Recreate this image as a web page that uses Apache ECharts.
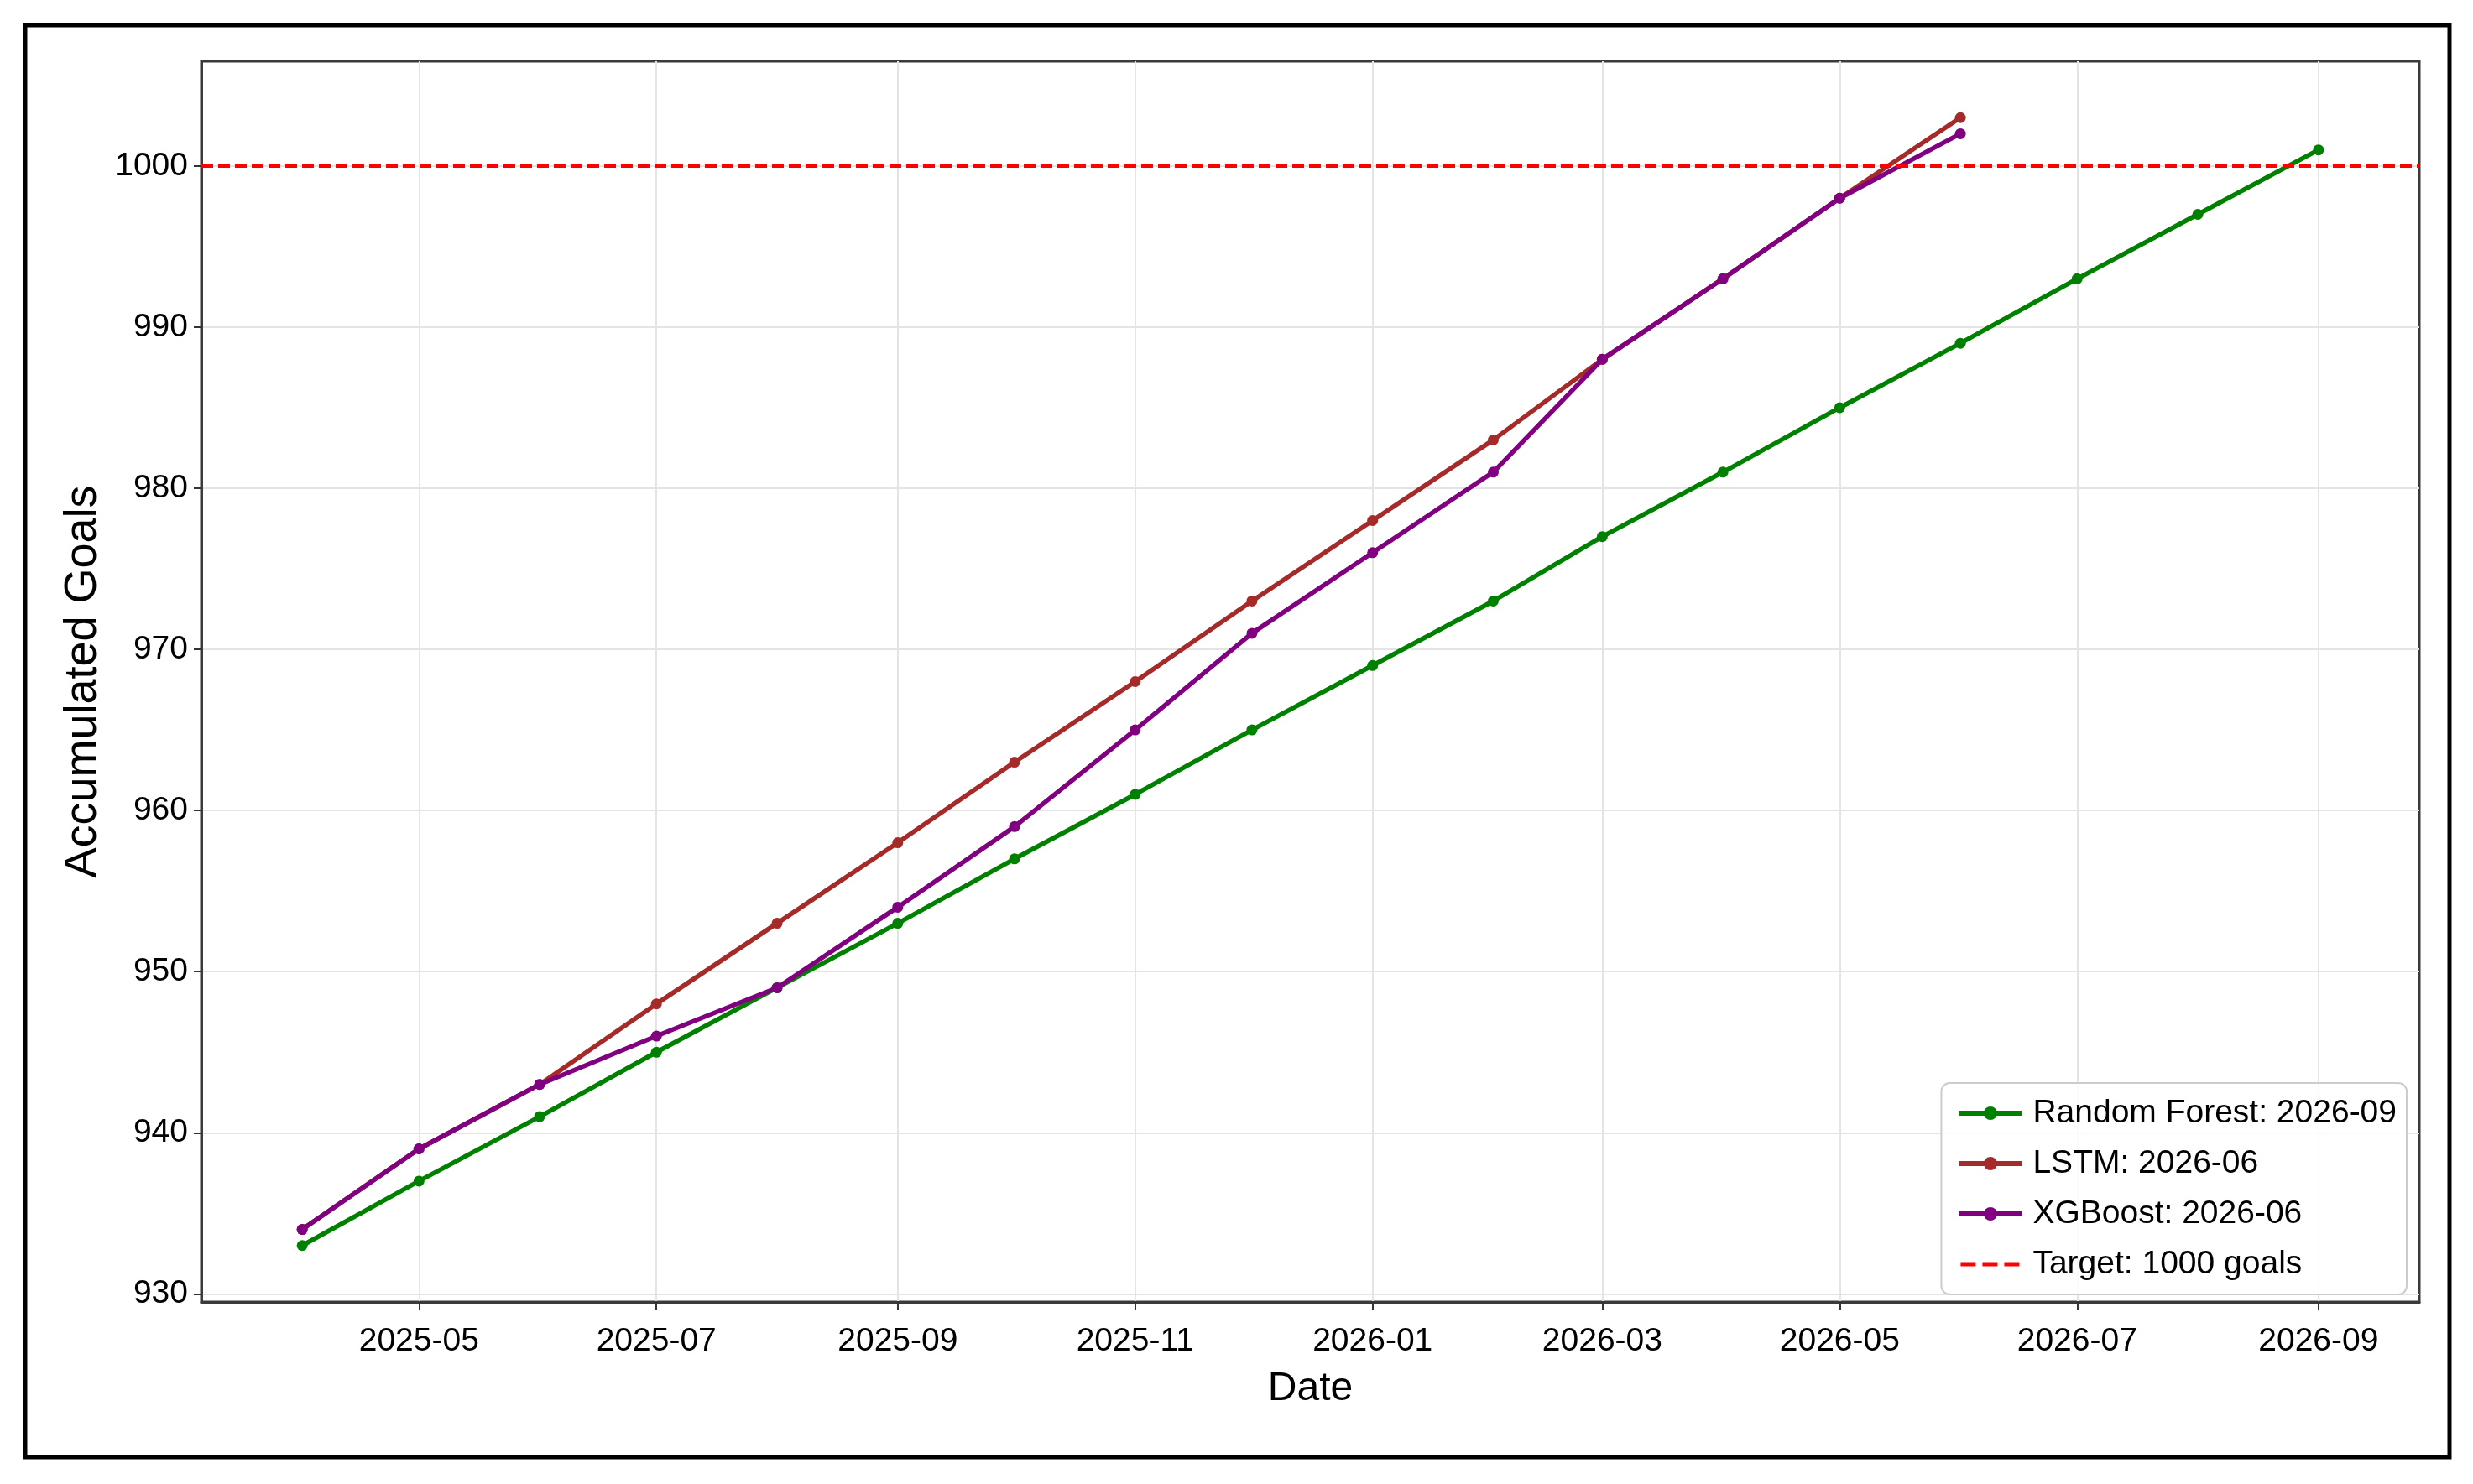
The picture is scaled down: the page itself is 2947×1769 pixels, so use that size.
<!DOCTYPE html>
<html>
<head>
<meta charset="utf-8">
<script src="https://cdn.jsdelivr.net/npm/echarts@6/dist/echarts.min.js"></script>
<style>
html,body{margin:0;padding:0;background:#fff;}
#chart{width:2947px;height:1769px;}
</style>
</head>
<body>
<div id="chart"></div>
<script>
// ---- data ----
const months = ['2025-04','2025-05','2025-06','2025-07','2025-08','2025-09','2025-10','2025-11','2025-12',
                '2026-01','2026-02','2026-03','2026-04','2026-05','2026-06','2026-07','2026-08','2026-09'];
const rfValues   = [933,937,941,945,949,953,957,961,965,969,973,977,981,985,989,993,997,1001];
const lstmValues = [934,939,943,948,953,958,963,968,973,978,983,988,993,998,1003];
const xgbValues  = [934,939,943,946,949,954,959,965,971,976,981,988,993,998,1002];
const targetValue = 1000;
const seriesNames = ['Random Forest: 2026-09','LSTM: 2026-06','XGBoost: 2026-06','Target: 1000 goals'];
const xTickLabels = ['2025-05','2025-07','2025-09','2025-11','2026-01','2026-03','2026-05','2026-07','2026-09'];
const yTickValues = [930,940,950,960,970,980,990,1000];

// ---- helpers ----
const toTs = s => Date.UTC(+s.slice(0,4), +s.slice(5,7) - 1, 1);
const pairs = (vals) => vals.map((v, i) => [toTs(months[i]), v]);
const fmt = ts => { const d = new Date(ts); return d.getUTCFullYear() + '-' + String(d.getUTCMonth()+1).padStart(2,'0'); };

const t0 = toTs(months[0]), t1 = toTs(months[months.length-1]);
const span = t1 - t0;
const xMin = t0 - 0.05*span, xMax = t1 + 0.05*span;
const allY = rfValues.concat(lstmValues, xgbValues);
const yLo = Math.min(...allY), yHi = Math.max(...allY);
const yMin = yLo - 0.05*(yHi-yLo), yMax = yHi + 0.05*(yHi-yLo);
const xTickTs = xTickLabels.map(toTs);

const FONT = 'Liberation Sans, Arial, Helvetica, sans-serif';
const LW = 5.5, SYM = 13;
const GRIDC = '#e4e4e4';

const mkLine = (name, vals, color) => ({
  name, type: 'line', data: pairs(vals),
  symbol: 'circle', symbolSize: SYM, showSymbol: true,
  lineStyle: { color, width: LW }, itemStyle: { color },
  emphasis: { disabled: true }, animation: false, z: 10
});

const dashIcon = 'path://M0,0H0.01V0.01H0Z M74.99,19.99H75V20H74.99Z M2,7.5H20V12.5H2Z M28,7.5H46V12.5H28Z M54,7.5H72V12.5H54Z';

const chart = echarts.init(document.getElementById('chart'), null, { renderer: 'canvas' });
chart.setOption({
  backgroundColor: '#fff',
  animation: false,
  textStyle: { fontFamily: FONT },
  grid: { left: 240, top: 73, right: 64, bottom: 217, show: true, borderColor: '#3a3a3a', borderWidth: 3, backgroundColor: 'transparent' },
  xAxis: {
    type: 'value', min: xMin, max: xMax,
    name: 'Date', nameLocation: 'middle', nameGap: 80,
    nameTextStyle: { fontSize: 48, color: '#000', fontFamily: FONT },
    axisLine: { show: true, onZero: false, lineStyle: { color: '#3a3a3a', width: 3 } },
    axisTick: { show: true, length: 9, lineStyle: { color: '#333', width: 2 }, customValues: xTickTs },
    axisLabel: { fontSize: 39, color: '#000', margin: 28, fontFamily: FONT, customValues: xTickTs, formatter: v => fmt(v) },
    splitLine: { show: false }
  },
  yAxis: {
    type: 'value', min: yMin, max: yMax,
    name: 'Accumulated Goals', nameLocation: 'middle', nameGap: 114,
    nameTextStyle: { fontSize: 54, color: '#000', fontFamily: FONT },
    axisLine: { show: true, lineStyle: { color: '#3a3a3a', width: 3 } },
    axisTick: { show: true, length: 9, lineStyle: { color: '#333', width: 2 }, customValues: yTickValues },
    axisLabel: { fontSize: 39, color: '#000', margin: 16, fontFamily: FONT, customValues: yTickValues, formatter: v => String(v) },
    splitLine: { show: false }
  },
  legend: {
    orient: 'vertical', right: 79, bottom: 226, z: 50,
    data: [
      { name: seriesNames[0] },
      { name: seriesNames[1] },
      { name: seriesNames[2] },
      { name: seriesNames[3], icon: dashIcon, itemStyle: { color: '#ff0000', borderWidth: 0 } }
    ],
    itemWidth: 75, itemHeight: 20, itemGap: 16,
    padding: [14, 12, 14, 18],
    backgroundColor: 'rgba(255,255,255,0.85)',
    borderColor: '#cccccc', borderWidth: 2, borderRadius: 10,
    lineStyle: { width: 6 },
    textStyle: { fontSize: 39, color: '#000', fontFamily: FONT, lineHeight: 44, padding: [0,0,0,8] },
    selectedMode: false
  },
  series: [
    {
      name: 'grid-lines', type: 'line', data: [], silent: true, z: 0,
      markLine: {
        z: 0, silent: true, symbol: ['none','none'], label: { show: false }, animation: false,
        lineStyle: { color: GRIDC, width: 2, type: 'solid' },
        data: xTickTs.map(t => ({ xAxis: t })).concat(yTickValues.map(v => ({ yAxis: v })))
      }
    },
    mkLine(seriesNames[0], rfValues, '#008000'),
    mkLine(seriesNames[1], lstmValues, '#a52a2a'),
    mkLine(seriesNames[2], xgbValues, '#800080'),
    {
      name: seriesNames[3], type: 'line', data: [],
      symbol: 'none',
      lineStyle: { color: '#ff0000', width: 4, type: [14, 6] }, itemStyle: { color: '#ff0000' },
      markLine: {
        z: 12, silent: true, symbol: ['none','none'], label: { show: false }, animation: false,
        lineStyle: { color: '#ff0000', width: 4, type: [14, 6] },
        data: [{ yAxis: targetValue }]
      },
      z: 12
    }
  ],
  graphic: [{
    type: 'rect', shape: { x: 30, y: 30, width: 2889, height: 1707 },
    style: { fill: 'none', stroke: '#000', lineWidth: 5 }, z: 100, silent: true
  }]
});
</script>
</body>
</html>
